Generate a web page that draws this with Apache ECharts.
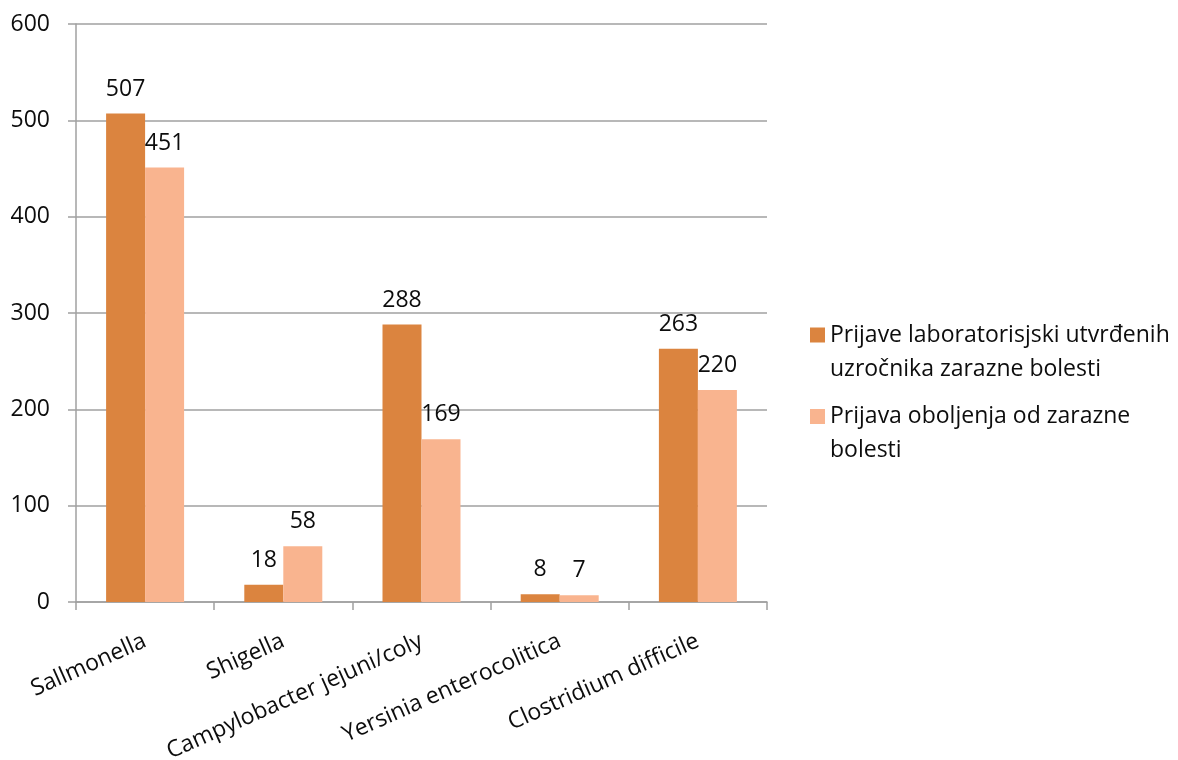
<!DOCTYPE html>
<html>
<head>
<meta charset="utf-8">
<script src="https://cdn.jsdelivr.net/npm/echarts@6/dist/echarts.min.js"></script>
<style>
  html, body { margin: 0; padding: 0; background: #fff; }
  #chart { width: 1178px; height: 760px; }
</style>
</head>
<body>
<div id="chart"></div>
<script>
// uzročnici
var categories = ['Sallmonella', 'Shigella', 'Campylobacter jejuni/coly', 'Yersinia enterocolitica', 'Clostridium difficile']
var seriesNames = ['Prijave laboratorisjski utvrđenih uzročnika zarazne bolesti', 'Prijava oboljenja od zarazne bolesti']
var legendLines = [['Prijave laboratorisjski utvrđenih', 'uzročnika zarazne bolesti'], ['Prijava oboljenja od zarazne', 'bolesti']]
var laboratorijski = [507, 18, 288, 8, 263]
var oboljenja = [451, 58, 169, 7, 220]
var yTicks = [0, 100, 200, 300, 400, 500, 600]

var font = 'Open Sans'
var gray = '#a0a0a0'
var ink = '#0d0d0d'

var chart = echarts.init(document.getElementById('chart'))

var option = {
    animation: false,
    textStyle: { fontFamily: font },
    grid: { left: 76, right: 411, top: 24, bottom: 158, outerBoundsMode: 'none' },
    legend: {
        orient: 'vertical',
        left: 810,
        top: 296,
        padding: 0,
        itemWidth: 15,
        itemHeight: 15,
        itemGap: -3,
        icon: 'rect',
        data: seriesNames,
        // prazan prvi red da kvadratić stoji uz prvi red teksta
        formatter: function (name) {
            var l = legendLines[seriesNames.indexOf(name)]
            return '{s| }\n{t|' + l[0] + '}\n{t|' + l[1] + '}'
        },
        textStyle: {
            fontFamily: font,
            fontSize: 23,
            color: ink,
            rich: {
                s: { fontSize: 10, lineHeight: 34 },
                t: { fontFamily: font, fontSize: 23, color: ink, lineHeight: 34 }
            }
        }
    },
    xAxis: {
        type: 'category',
        data: categories,
        axisLine: { lineStyle: { color: gray, width: 1.5 } },
        axisTick: { show: true, length: 8, lineStyle: { color: gray, width: 1.5 } },
        axisLabel: {
            interval: 0,
            rotate: 24,
            margin: 38,
            fontSize: 23,
            color: ink,
            fontFamily: font
        }
    },
    yAxis: {
        type: 'value',
        min: yTicks[0],
        max: yTicks[yTicks.length - 1],
        interval: 100,
        axisLine: { show: true, lineStyle: { color: gray, width: 1.5 } },
        axisTick: { show: true, length: 8, lineStyle: { color: gray, width: 1.5 } },
        splitLine: { lineStyle: { color: gray, width: 1.5 } },
        axisLabel: {
            margin: 26,
            fontSize: 23,
            color: ink,
            fontFamily: font
        }
    },
    series: [
        {
            name: seriesNames[0],
            type: 'bar',
            data: laboratorijski,
            barWidth: 39,
            barGap: '0%',
            itemStyle: { color: '#db843f' },
            label: { show: true, position: 'top', distance: 13, fontSize: 23, color: ink, fontFamily: font }
        },
        {
            name: seriesNames[1],
            type: 'bar',
            data: oboljenja,
            barWidth: 39,
            barGap: '0%',
            itemStyle: { color: '#f9b48f' },
            label: { show: true, position: 'top', distance: 13, fontSize: 23, color: ink, fontFamily: font }
        }
    ]
}

chart.setOption(option)
</script>
</body>
</html>
